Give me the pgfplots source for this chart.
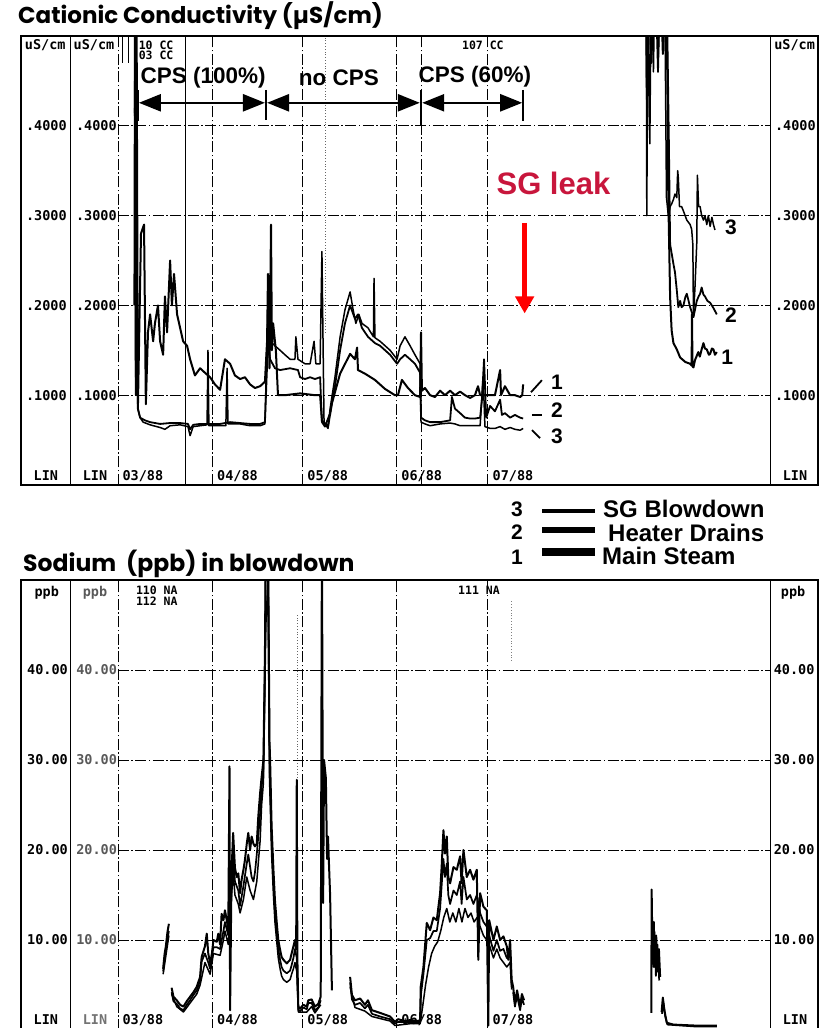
\documentclass[border=0pt]{standalone}
\usepackage{fontspec}
\setmainfont{Liberation Sans}
\newfontfamily\titlef{Poppins}
\newfontfamily\monof{DejaVu Sans Mono}
\usepackage{pgfplots}
\pgfplotsset{compat=1.18}
\usepackage{pgfplotstable}
\usetikzlibrary{arrows.meta}
\definecolor{leaktext}{HTML}{C8163C}
\definecolor{leakarrow}{HTML}{FF0000}

% ---------- Cationic conductivity (uS/cm), x = days since 1 March 1988 ----------
\pgfplotstableread{
x y
5.6 0.42
6.6 0.09
7.6 0.28
8.6 0.29
9.2 0.09
9.9 0.17
10.6 0.19
11.6 0.16
12.2 0.18
13.2 0.20
13.9 0.16
14.9 0.145
15.5 0.21
16.2 0.17
17.2 0.25
17.8 0.20
18.5 0.235
19.5 0.19
20.5 0.175
21.5 0.16
22.8 0.155
23.8 0.14
25.4 0.122
27.1 0.13
28.7 0.125
30.4 0.12
32.0 0.112
33.7 0.106
35.3 0.14
37.0 0.135
38.6 0.122
40.3 0.118
41.9 0.12
43.6 0.112
45.2 0.108
46.9 0.11
48.5 0.115
49.2 0.16
49.5 0.235
50.0 0.13
50.5 0.29
50.8 0.15
51.2 0.18
52.1 0.15
52.8 0.10
55.1 0.10
60.1 0.102
65.0 0.10
66.7 0.10
67.3 0.072
69.3 0.065
70.6 0.091
73.3 0.124
76.6 0.146
78.2 0.14
78.9 0.153
79.2 0.128
81.5 0.124
84.8 0.117
88.1 0.107
91.4 0.10
92.4 0.10
93.7 0.117
95.7 0.108
98.0 0.10
99.7 0.098
100.0 0.17
100.3 0.105
101.3 0.108
103.0 0.10
104.6 0.098
106.3 0.105
107.9 0.10
109.6 0.105
111.2 0.10
112.9 0.104
114.5 0.10
116.2 0.097
117.8 0.10
118.8 0.11
119.5 0.10
121.1 0.10
122.8 0.10
124.4 0.10
126.1 0.128
126.4 0.10
127.7 0.11
129.4 0.10
131.0 0.10
132.7 0.098
133.4 0.10
133.7 0.112
150.0 nan
174.0 0.6
174.6 0.42
175.2 0.58
176.0 0.47
176.8 0.6
177.8 0.5
178.8 0.6
179.8 0.48
180.8 0.58
181.3 0.45
181.6 0.32
182.0 0.246
182.2 0.209
182.7 0.172
183.3 0.158
184.4 0.151
185.5 0.142
187.2 0.137
188.8 0.135
189.3 0.133
189.4 0.19
189.6 0.132
189.9 0.131
190.4 0.139
191.5 0.148
192.0 0.143
192.6 0.151
193.2 0.158
193.7 0.152
194.3 0.151
195.0 0.145
195.4 0.146
196.0 0.152
196.5 0.151
197.0 0.145
197.6 0.148
}\ccOne

\pgfplotstableread{
x y
5.4 0.20
5.6 0.55
5.9 0.10
6.2 0.50
6.6 0.085
7.3 0.075
8.9 0.072
10.6 0.07
13.9 0.068
17.2 0.069
20.5 0.069
23.1 0.068
23.8 0.062
24.8 0.067
27.1 0.068
30.4 0.068
33.7 0.068
37.0 0.07
40.3 0.069
43.6 0.068
46.9 0.068
48.5 0.07
49.5 0.16
50.2 0.14
51.8 0.13
53.5 0.128
56.8 0.13
59.4 0.128
60.1 0.12
61.7 0.118
63.4 0.12
65.0 0.118
66.7 0.12
67.3 0.07
68.3 0.065
70.0 0.08
71.6 0.11
73.3 0.15
74.9 0.18
76.6 0.20
78.2 0.185
79.2 0.19
80.5 0.175
82.5 0.165
84.8 0.158
86.5 0.155
89.8 0.145
92.1 0.135
93.1 0.14
94.7 0.145
96.4 0.14
98.0 0.135
99.7 0.125
100.0 0.075
101.3 0.072
103.0 0.07
106.3 0.07
109.6 0.072
110.2 0.098
111.2 0.085
112.9 0.08
114.5 0.075
116.2 0.074
117.8 0.074
119.5 0.075
120.1 0.095
120.8 0.14
121.5 0.075
122.8 0.088
124.4 0.082
126.1 0.095
126.7 0.078
127.7 0.08
129.4 0.075
131.0 0.078
132.7 0.075
133.7 0.074
150.0 nan
174.2 0.6
174.8 0.45
175.6 0.6
176.4 0.5
177.2 0.59
178.2 0.46
179.2 0.6
180.2 0.5
181.0 0.57
181.8 0.38
182.2 0.268
183.3 0.246
183.8 0.237
184.4 0.217
184.9 0.198
185.5 0.205
186.0 0.198
186.6 0.20
187.2 0.209
187.7 0.213
188.3 0.205
188.8 0.198
189.9 0.187
190.4 0.195
191.0 0.205
191.6 0.21
192.1 0.213
192.6 0.22
193.2 0.212
193.7 0.21
194.5 0.205
195.4 0.203
196.5 0.197
197.6 0.19
}\ccTwo

\pgfplotstableread{
x y
5.5 0.45
5.8 0.12
6.1 0.40
6.5 0.085
7.3 0.075
8.3 0.07
10.6 0.067
13.9 0.064
15.5 0.062
17.2 0.066
20.5 0.067
23.1 0.065
23.8 0.055
24.8 0.065
27.1 0.066
29.4 0.067
29.7 0.15
30.0 0.066
33.7 0.066
35.6 0.066
36.0 0.13
36.3 0.068
40.3 0.068
43.6 0.066
46.9 0.066
48.5 0.068
49.5 0.20
50.2 0.16
51.8 0.155
53.5 0.15
55.1 0.145
56.8 0.14
58.4 0.14
58.7 0.165
59.4 0.14
61.7 0.135
63.4 0.135
64.7 0.16
65.3 0.135
66.7 0.135
67.3 0.26
68.0 0.07
69.3 0.063
70.0 0.085
71.6 0.12
73.3 0.165
74.9 0.195
76.6 0.215
77.6 0.195
78.5 0.18
79.5 0.19
80.5 0.18
82.5 0.175
84.3 0.165
84.5 0.23
84.8 0.164
86.5 0.16
89.8 0.15
92.1 0.14
93.1 0.155
94.7 0.165
96.4 0.155
98.0 0.145
99.7 0.135
100.0 0.07
101.3 0.068
103.0 0.066
106.3 0.068
109.6 0.069
111.2 0.068
112.9 0.066
116.2 0.066
119.5 0.066
120.5 0.12
121.1 0.065
122.8 0.063
124.4 0.063
126.1 0.065
127.7 0.062
129.4 0.064
131.0 0.062
132.7 0.061
133.7 0.063
150.0 nan
174.3 0.6
174.5 0.30
174.9 0.55
175.5 0.38
176.0 0.57
176.7 0.46
177.3 0.6
178.3 0.48
179.3 0.6
180.0 0.5
180.5 0.52
181.0 0.32
181.6 0.30
182.2 0.31
182.7 0.313
183.3 0.318
183.8 0.324
184.4 0.32
184.7 0.35
184.9 0.342
185.3 0.31
186.0 0.31
186.6 0.305
187.7 0.295
188.8 0.29
189.3 0.285
189.7 0.268
189.9 0.187
190.4 0.22
191.0 0.27
191.2 0.345
191.6 0.31
192.1 0.31
192.6 0.30
193.2 0.295
193.7 0.30
194.3 0.29
194.8 0.30
195.4 0.288
196.0 0.298
196.5 0.29
197.0 0.284
}\ccThree

% ---------- Sodium (ppb) ----------
\pgfplotstableread{
x y
14.9 6.8
15.4 8.5
15.8 9.3
16.3 10.8
16.8 11.8
17.2 nan
17.7 4.7
18.3 3.7
19.4 3.3
20.5 2.8
21.6 2.6
22.7 3.2
23.8 3.7
24.9 4.2
26.0 4.8
27.1 5.9
27.6 8.1
28.7 9.3
29.3 10.7
29.8 8.5
30.4 7.4
31.0 8.5
31.5 10.0
32.6 9.8
33.1 10.7
33.7 9.5
34.2 12.9
34.8 12.2
35.3 13.3
36.0 12.0
36.4 11.0
36.8 29.3
37.0 2.2
37.3 12.0
37.5 17.8
38.0 21.9
38.6 18.0
39.2 17.0
39.7 17.4
40.3 15.2
40.8 16.7
41.4 17.8
41.9 18.9
42.5 20.7
43.0 21.9
43.6 20.0
44.1 21.5
44.7 20.7
45.2 20.4
45.8 20.7
46.3 23.7
46.9 26.3
47.4 28.1
48.0 30.0
48.5 42.0
48.8 55.0
49.5 55.0
50.0 32.0
50.2 30.0
50.7 22.6
51.3 17.8
51.8 14.4
52.4 11.9
52.9 10.0
53.5 8.9
54.0 8.1
54.6 7.8
55.7 7.4
56.8 7.8
57.3 8.5
57.9 9.3
58.4 10.0
58.8 9.0
59.0 27.8
59.2 8.0
59.5 2.6
60.1 2.4
61.2 2.8
62.3 2.6
62.8 3.3
63.9 3.4
65.0 2.6
66.1 2.9
66.9 3.7
67.3 55.0
67.7 14.1
68.0 30.0
68.6 28.0
69.0 19.0
69.3 21.5
70.0 15.0
70.6 4.4
70.9 nan
76.6 5.9
77.2 3.9
78.2 3.3
79.9 3.5
81.5 2.8
82.5 3.3
83.8 2.2
86.5 1.9
89.8 1.5
91.4 0.9
92.4 1.2
94.7 1.0
96.4 1.1
99.0 1.0
99.7 1.1
99.9 4.8
100.8 7.0
101.9 11.9
103.0 11.1
104.1 12.5
105.2 12.2
106.3 15.2
106.8 18.1
107.4 22.2
107.9 19.6
108.5 21.5
109.0 17.0
109.6 16.3
110.7 18.1
111.8 17.8
112.9 19.3
113.4 16.3
114.0 20.0
115.1 17.0
116.2 17.8
117.3 16.7
118.4 17.8
118.9 7.8
119.5 15.2
120.6 13.7
121.7 13.3
122.2 0.5
122.5 12.2
123.9 10.0
125.0 11.5
126.1 10.0
127.2 10.4
128.3 9.3
128.8 7.8
129.4 10.0
129.9 5.6
130.4 4.8
131.0 3.0
131.7 4.4
132.7 2.6
133.3 4.0
134.0 3.3
134.3 nan
176.0 1.9
176.1 15.6
176.4 8.0
176.8 12.0
177.2 7.0
177.6 10.5
178.0 6.5
178.5 9.0
178.9 5.9
179.1 nan
179.4 2.0
179.8 3.6
180.3 2.2
181.1 0.8
183.3 0.6
190.0 0.5
197.6 0.5
}\naA

\pgfplotstableread{
x y
14.9 6.5
15.8 9.0
16.8 11.0
17.2 nan
17.7 4.2
18.3 3.2
19.4 2.9
20.5 2.4
21.6 2.2
22.7 2.8
23.8 3.3
24.9 3.9
26.0 4.4
27.1 5.5
27.6 7.6
28.7 8.5
29.8 7.5
30.4 6.8
31.5 9.2
32.6 9.2
33.7 9.0
34.8 11.0
35.3 12.0
36.4 10.5
37.5 16.2
38.0 19.5
38.6 16.5
39.7 15.5
40.3 13.8
41.4 16.0
42.5 18.5
43.0 19.5
44.1 17.0
44.7 16.5
45.2 17.5
45.8 19.5
46.9 24.0
47.4 27.0
48.0 29.0
48.5 40.0
48.8 55.0
49.5 55.0
50.0 30.0
50.7 21.0
51.3 16.5
51.8 13.3
52.4 10.8
52.9 9.0
53.5 7.8
54.0 7.0
54.6 6.6
55.7 6.3
56.8 6.6
57.3 7.2
57.9 8.0
58.4 9.0
59.0 8.0
59.5 2.3
60.1 2.1
61.2 2.5
62.3 2.3
62.8 3.0
63.9 3.0
65.0 2.2
66.1 2.5
66.9 3.3
67.2 nan
76.6 5.3
77.2 3.4
78.2 2.8
79.9 3.0
81.5 2.4
82.5 2.8
83.8 1.8
86.5 1.5
89.8 1.2
91.4 0.7
92.4 0.9
96.4 0.9
99.7 0.9
100.0 4.0
100.8 6.2
101.9 10.0
103.0 10.2
104.1 11.0
105.2 11.0
106.3 13.5
106.8 16.0
107.4 19.0
107.9 17.0
108.5 18.5
109.0 15.0
109.6 14.0
110.7 15.5
111.8 15.0
112.9 16.5
113.4 14.0
114.0 17.0
115.1 14.5
116.2 15.0
117.3 14.0
118.4 15.0
119.5 13.0
120.6 12.0
121.7 11.5
122.5 10.5
123.9 8.8
125.0 10.0
126.1 8.8
127.2 9.0
128.3 8.0
129.4 8.6
129.9 5.0
130.1 nan
130.4 4.2
131.0 2.6
131.7 3.8
132.7 2.2
133.3 3.5
134.0 2.8
134.3 nan
176.2 13.0
176.6 7.0
177.0 11.0
177.5 6.0
178.0 9.5
178.6 5.5
179.0 nan
179.5 1.8
180.0 3.0
180.6 1.5
181.3 0.6
190.0 0.4
197.6 0.4
}\naB

\pgfplotstableread{
x y
14.9 6.2
16.8 10.5
17.2 nan
17.7 4.0
19.4 2.6
21.6 2.0
23.8 3.0
26.0 4.0
27.1 5.0
28.7 7.5
30.4 6.2
31.5 8.5
33.7 8.3
34.8 10.0
35.3 11.0
36.4 9.5
37.5 15.0
38.0 17.5
38.6 15.0
39.7 14.0
40.3 13.0
41.4 14.5
42.5 17.0
43.6 15.5
44.7 14.5
45.8 16.5
46.9 21.0
47.4 25.0
48.0 27.5
48.8 45.0
49.5 50.0
50.0 28.0
50.7 19.5
51.3 15.0
51.8 12.0
52.4 9.8
52.9 8.0
53.5 6.8
54.0 6.0
54.6 5.6
55.7 5.3
56.8 5.6
57.3 6.2
57.9 6.8
58.4 7.5
59.0 6.5
59.5 2.0
62.3 2.0
63.9 2.6
65.0 1.9
66.9 2.8
67.2 nan
76.6 4.8
78.2 2.5
81.5 2.1
83.8 1.5
89.8 1.0
91.4 0.5
96.4 0.7
99.7 0.7
100.5 2.5
101.5 5.0
102.5 7.0
103.5 8.5
104.5 9.3
105.5 9.8
106.5 11.0
107.5 12.5
108.5 13.5
109.5 12.0
110.5 13.0
111.5 12.0
112.5 13.5
113.5 12.0
114.5 13.5
115.5 12.5
116.5 13.0
117.5 12.0
118.5 12.5
119.5 11.5
120.6 10.5
121.7 10.0
122.5 9.5
123.9 8.0
125.0 9.0
126.1 8.0
128.3 7.0
129.4 7.5
129.9 4.5
}\naC

\pgfplotsset{
  scanaxis/.style={
    scale only axis, width=797pt,
    xmin=-32, xmax=231,
    xtick=\empty, ytick=\empty,
    axis line style={line width=1.1pt},
    unbounded coords=jump,
  },
}
\tikzset{
  grid/.style={line width=0.8pt, dash pattern=on 11pt off 2.5pt on 1.5pt off 2.5pt},
  tl/.style={font=\monof\bfseries\fontsize{13.5}{14}\selectfont, inner sep=0.5pt},
  sm/.style={font=\monof\bfseries\fontsize{11.5}{12}\selectfont, inner sep=0pt, anchor=west},
  lab/.style={font=\bfseries\fontsize{21}{22}\selectfont, inner sep=0pt},
  cps/.style={anchor=base, inner sep=0pt, font=\bfseries\fontsize{22.5}{25}\selectfont},
  arr/.style={line width=2.5pt, {Triangle[length=22pt,width=17pt]}-{Triangle[length=22pt,width=17pt]}},
}

\begin{document}
\begin{tikzpicture}
\path[use as bounding box] (0pt,0pt) rectangle (819pt,1028pt);

% titles
\node[anchor=base west, inner sep=0pt] at (18pt,1004pt)
  {\titlef\bfseries\fontsize{23}{26}\selectfont Cationic\ Conductivity\ (µS/cm)};
\node[anchor=base west, inner sep=0pt] at (23pt,456pt)
  {\titlef\bfseries\fontsize{23.5}{26}\selectfont Sodium\ \ (ppb) in blowdown};

% legend between panels
\node[lab, anchor=base] at (517pt,511pt) {3};
\node[lab, anchor=base] at (517pt,488pt) {2};
\node[lab, anchor=base] at (517pt,463pt) {1};
\draw[line width=3.5pt] (542pt,517pt) -- (595pt,517pt);
\draw[line width=5.5pt] (542pt,498pt) -- (595pt,498pt);
\draw[line width=7.5pt] (542pt,476pt) -- (595pt,476pt);
\node[anchor=base west, inner sep=0pt, font=\bfseries\fontsize{24}{26}\selectfont] at (603pt,510pt) {SG Blowdown};
\node[anchor=base west, inner sep=0pt, font=\bfseries\fontsize{24}{26}\selectfont] at (608pt,486pt) {Heater Drains};
\node[anchor=base west, inner sep=0pt, font=\bfseries\fontsize{24}{26}\selectfont] at (602pt,463pt) {Main Steam};

% ================= TOP PANEL =================
\begin{axis}[scanaxis, at={(21pt,543pt)}, anchor=south west, height=449pt,
  ymin=0, ymax=0.5]
\draw[line width=1pt] (axis cs:-15.8,0) -- (axis cs:-15.8,0.5);
\draw[line width=1pt] (axis cs:215.2,0) -- (axis cs:215.2,0.5);
\draw[grid] (axis cs:0,0) -- (axis cs:0,0.5);
\draw[grid] (axis cs:31,0) -- (axis cs:31,0.5);
\draw[grid] (axis cs:61,0) -- (axis cs:61,0.5);
\draw[grid] (axis cs:92,0) -- (axis cs:92,0.5);
\draw[grid] (axis cs:122,0) -- (axis cs:122,0.5);
\draw[grid] (axis cs:100,0) -- (axis cs:100,0.5);
\draw[line width=0.8pt] (axis cs:22.1,0) -- (axis cs:22.1,0.5);
\draw[line width=0.8pt, dotted, black!60] (axis cs:68.3,0.17) -- (axis cs:68.3,0.5);
\draw[line width=0.8pt] (axis cs:1.6,0.47) -- (axis cs:1.6,0.5);
\draw[line width=0.8pt] (axis cs:3.3,0.47) -- (axis cs:3.3,0.5);
\pgfplotsinvokeforeach{1,2,3,4}{
  \draw[grid] (axis cs:0,0.#1) -- (axis cs:215.2,0.#1);
  \node[tl, anchor=east] at (axis cs:-16.7,0.#1) {.#1000};
  \node[tl, anchor=east] at (axis cs:-0.2,0.#1) {.#1000};
  \node[tl, anchor=west] at (axis cs:216.6,0.#1) {.#1000};
}
\node[tl, anchor=north] at (axis cs:-24.0,0.497) {uS/cm};
\node[tl, anchor=north] at (axis cs:-7.9,0.497) {uS/cm};
\node[tl, anchor=north] at (axis cs:223.3,0.497) {uS/cm};
\node[tl, anchor=base] at (axis cs:-23.8,0.005) {LIN};
\node[tl, anchor=base] at (axis cs:-7.6,0.005) {LIN};
\node[tl, anchor=base] at (axis cs:223.4,0.005) {LIN};
\node[tl, anchor=base west] at (axis cs:1.3,0.005) {03/88};
\node[tl, anchor=base west] at (axis cs:32.5,0.005) {04/88};
\node[tl, anchor=base west] at (axis cs:62.3,0.005) {05/88};
\node[tl, anchor=base west] at (axis cs:93.3,0.005) {06/88};
\node[tl, anchor=base west] at (axis cs:123.4,0.005) {07/88};
\node[sm] at (axis cs:6.8,0.490) {10 CC};
\node[sm] at (axis cs:6.8,0.479) {03 CC};
\node[sm] at (axis cs:113.5,0.490) {107 CC};

\addplot[black, line width=1.5pt, line join=round] table[x=x,y=y] {\ccThree};
\addplot[black, line width=1.8pt, line join=round] table[x=x,y=y] {\ccTwo};
\addplot[black, line width=2.0pt, line join=round] table[x=x,y=y] {\ccOne};

\draw[line width=4pt] (axis cs:6.3,0.440) -- (axis cs:6.3,0.405);
\draw[line width=1.5pt] (axis cs:48.8,0.440) -- (axis cs:48.8,0.407);
\draw[line width=1.5pt] (axis cs:100.0,0.440) -- (axis cs:100.0,0.400);
\draw[line width=1.5pt] (axis cs:133.7,0.440) -- (axis cs:133.7,0.405);
\draw[arr] (axis cs:6.9,0.4256) -- (axis cs:48.5,0.4256);
\draw[arr] (axis cs:49.2,0.4256) -- (axis cs:99.6,0.4256);
\draw[arr] (axis cs:100.4,0.4256) -- (axis cs:133.4,0.4256);
\node[cps] at (axis cs:28.1,0.4467) {CPS (100\%)};
\node[cps] at (axis cs:72.9,0.4444) {no CPS};
\node[cps] at (axis cs:117.8,0.448) {CPS (60\%)};

\node[anchor=base, inner sep=0pt, text=leaktext, font=\bfseries\fontsize{31}{33}\selectfont] at (axis cs:143.7,0.324) {SG leak};
\draw[leakarrow, line width=5.5pt, -{Triangle[length=17pt,width=18pt]}] (axis cs:134.2,0.292) -- (axis cs:134.2,0.191);

\draw[line width=1.8pt] (axis cs:136.3,0.1033) -- (axis cs:139.9,0.1167);
\draw[line width=1.8pt] (axis cs:136.6,0.0778) -- (axis cs:139.9,0.0778);
\draw[line width=1.8pt] (axis cs:136.6,0.0611) -- (axis cs:139.3,0.0522);
\node[lab] at (axis cs:144.9,0.1144) {1};
\node[lab] at (axis cs:144.9,0.0833) {2};
\node[lab] at (axis cs:144.9,0.0544) {3};
\node[lab] at (axis cs:202.3,0.2867) {3};
\node[lab] at (axis cs:202.3,0.1889) {2};
\node[lab] at (axis cs:201.0,0.1422) {1};
\end{axis}

% ================= BOTTOM PANEL =================
\begin{axis}[scanaxis, at={(21pt,-2pt)}, anchor=south west, height=450pt,
  ymin=0, ymax=50]
\draw[line width=1pt] (axis cs:-15.8,0) -- (axis cs:-15.8,50);
\draw[line width=1pt] (axis cs:215.2,0) -- (axis cs:215.2,50);
\draw[grid] (axis cs:0,0) -- (axis cs:0,50);
\draw[grid] (axis cs:31,0) -- (axis cs:31,50);
\draw[grid] (axis cs:61,0) -- (axis cs:61,50);
\draw[grid] (axis cs:92,0) -- (axis cs:92,50);
\draw[grid] (axis cs:122,0) -- (axis cs:122,50);
\draw[line width=0.8pt, dotted, black!60] (axis cs:59.1,28) -- (axis cs:59.1,46.3);
\draw[line width=0.8pt, dotted, black!50] (axis cs:129.7,41) -- (axis cs:129.7,47.8);
\pgfplotsinvokeforeach{1,2,3,4}{
  \draw[grid] (axis cs:0,#10) -- (axis cs:215.2,#10);
  \node[tl, anchor=east] at (axis cs:-16.3,#10) {#10.00};
  \node[tl, anchor=east, text=black!65] at (axis cs:-0.1,#10) {#10.00};
  \node[tl, anchor=west] at (axis cs:216.2,#10) {#10.00};
}
\node[tl, anchor=north] at (axis cs:-23.5,49.4) {ppb};
\node[tl, anchor=north, text=black!65] at (axis cs:-7.6,49.4) {ppb};
\node[tl, anchor=north] at (axis cs:222.8,49.4) {ppb};
\node[tl, anchor=base] at (axis cs:-23.8,0.6) {LIN};
\node[tl, anchor=base, text=black!55] at (axis cs:-7.6,0.6) {LIN};
\node[tl, anchor=base] at (axis cs:223.4,0.6) {LIN};
\node[tl, anchor=base west] at (axis cs:1.3,0.6) {03/88};
\node[tl, anchor=base west] at (axis cs:32.5,0.6) {04/88};
\node[tl, anchor=base west] at (axis cs:62.3,0.6) {05/88};
\node[tl, anchor=base west] at (axis cs:93.3,0.6) {06/88};
\node[tl, anchor=base west] at (axis cs:123.4,0.6) {07/88};
\node[sm] at (axis cs:5.9,48.9) {110 NA};
\node[sm] at (axis cs:5.9,47.6) {112 NA};
\node[sm] at (axis cs:112.2,48.9) {111 NA};

\addplot[black, line width=1.5pt, line join=round] table[x=x,y=y] {\naC};
\addplot[black, line width=1.7pt, line join=round] table[x=x,y=y] {\naB};
\addplot[black, line width=2.0pt, line join=round] table[x=x,y=y] {\naA};
\end{axis}
\end{tikzpicture}
\end{document}
